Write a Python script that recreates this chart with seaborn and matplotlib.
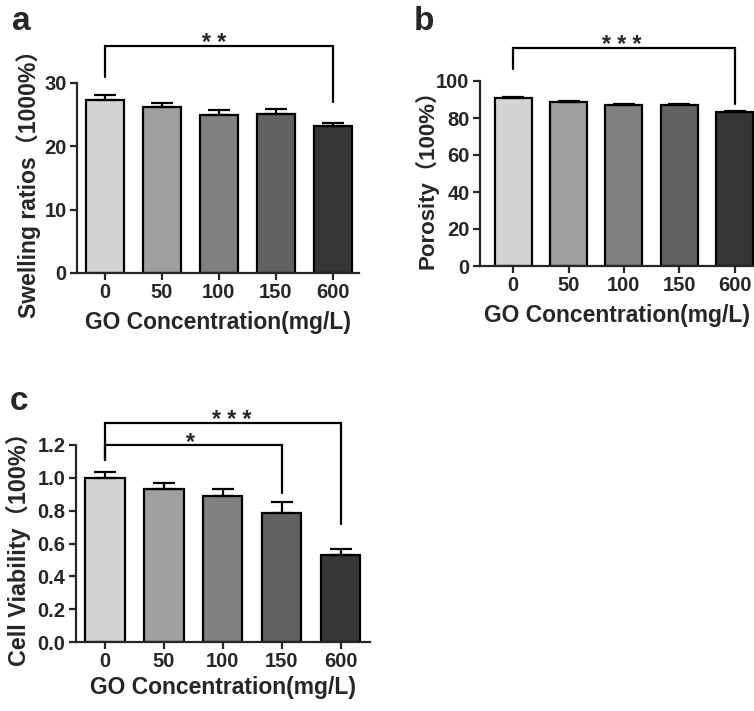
import matplotlib
matplotlib.use("Agg")
import matplotlib.pyplot as plt
import seaborn as sns
import numpy as np

# ---------------- data ----------------
concentrations = ["0", "50", "100", "150", "600"]
swelling = [27.3, 26.2, 25.0, 25.1, 23.2]
swelling_err = [0.8, 0.6, 0.75, 0.75, 0.45]
porosity = [90.8, 88.5, 86.8, 86.8, 83.2]
porosity_err = [0.7, 0.7, 0.8, 0.9, 0.6]
viability = [1.00, 0.934, 0.888, 0.786, 0.531]
viability_err = [0.037, 0.033, 0.042, 0.065, 0.038]

# ---------------- style ----------------
sns.set_style("ticks")
plt.rcParams["font.family"] = ["Liberation Sans", "Noto Sans CJK SC"]
plt.rcParams["font.weight"] = "bold"
plt.rcParams["axes.labelweight"] = "bold"

bar_colors = ["#d4d4d4", "#9f9f9f", "#808080", "#616161", "#363636"]
LW = 1.6

fig = plt.figure(figsize=(7.54, 7.11), dpi=100)
W, H = 754, 711


def add_axes(l, r, t, b):
    return fig.add_axes([l / W, 1 - b / H, (r - l) / W, (b - t) / H])


def panel(ax, values, errs, ylim, yticks, fmt, xlim, ylabel, ylab_size, ylab_x, xlab_y):
    sns.barplot(x=concentrations, y=values, hue=concentrations, palette=bar_colors,
                order=concentrations, hue_order=concentrations, legend=False,
                edgecolor="black", linewidth=LW, width=0.67, ax=ax, errorbar=None)
    ax.errorbar(np.arange(len(values)), values, yerr=[np.zeros(len(errs)), errs],
                fmt="none", ecolor="black", elinewidth=LW, capsize=8, capthick=LW, zorder=3)
    ax.set_xlim(*xlim)
    ax.set_ylim(*ylim)
    ax.set_yticks(yticks)
    ax.set_yticklabels([fmt.format(v) for v in yticks])
    sns.despine(ax=ax)
    for s in ("left", "bottom"):
        ax.spines[s].set_linewidth(LW)
    ax.tick_params(axis="both", width=LW, length=5, labelsize=14.5, pad=2.5)
    for lab in ax.get_xticklabels() + ax.get_yticklabels():
        lab.set_fontweight("bold")
    ax.set_ylabel(ylabel, fontsize=ylab_size, fontweight="bold",
                  family=["Liberation Sans", "Noto Sans CJK SC"])
    ax.yaxis.set_label_coords(ylab_x, 0.5)
    ax.set_xlabel("GO Concentration(mg/L)", fontsize=16.5, fontweight="bold")
    ax.xaxis.set_label_coords(0.5, xlab_y)


def bracket(ax, x0, x1, ytop, y0end, y1end, text, dx=0):
    ax.plot([x0, x0, x1, x1], [y0end, ytop, ytop, y1end], color="black",
            lw=LW, clip_on=False, solid_joinstyle="miter")
    ax.annotate(text, xy=((x0 + x1) / 2, ytop), xytext=(dx, -3), textcoords="offset points",
                ha="center", va="baseline", fontsize=16.5, fontweight="bold",
                annotation_clip=False)


# panel a
ax_a = add_axes(77, 359, 83, 273)
panel(ax_a, swelling, swelling_err, (0, 30), [0, 10, 20, 30], "{:.0f}",
      (-0.49, 4.46), "Swelling ratios（1000%）", 16.6, -0.128, -0.2)
bracket(ax_a, 0, 4, 35.9, 31.0, 27.05, "* *", dx=-3.5)

# panel b
ax_b = add_axes(480, 754, 81, 266)
panel(ax_b, porosity, porosity_err, (0, 100), [0, 20, 40, 60, 80, 100], "{:.0f}",
      (-0.6, 4.35), "Porosity（100%）", 16, -0.153, -0.207)
bracket(ax_b, 0, 4, 118.0, 106.5, 87.6, "* * *", dx=-1.5)

# panel c
ax_c = add_axes(76, 370, 445, 642)
panel(ax_c, viability, viability_err, (0, 1.2), [0, 0.2, 0.4, 0.6, 0.8, 1.0, 1.2], "{:.1f}",
      (-0.49, 4.5), "Cell Viability（100%）", 16.8, -0.153, -0.175)
bracket(ax_c, 0, 4, 1.334, 1.109, 0.718, "* * *", dx=6.5)
bracket(ax_c, 0, 3, 1.199, 1.109, 0.91, "*", dx=-2)

# panel letters
fig.text(12 / W, 1 - 30 / H, "a", fontsize=24, fontweight="bold", ha="left", va="baseline")
fig.text(414 / W, 1 - 30 / H, "b", fontsize=24, fontweight="bold", ha="left", va="baseline")
fig.text(10 / W, 1 - 410 / H, "c", fontsize=24, fontweight="bold", ha="left", va="baseline")

fig.savefig("out.png", dpi=100)
